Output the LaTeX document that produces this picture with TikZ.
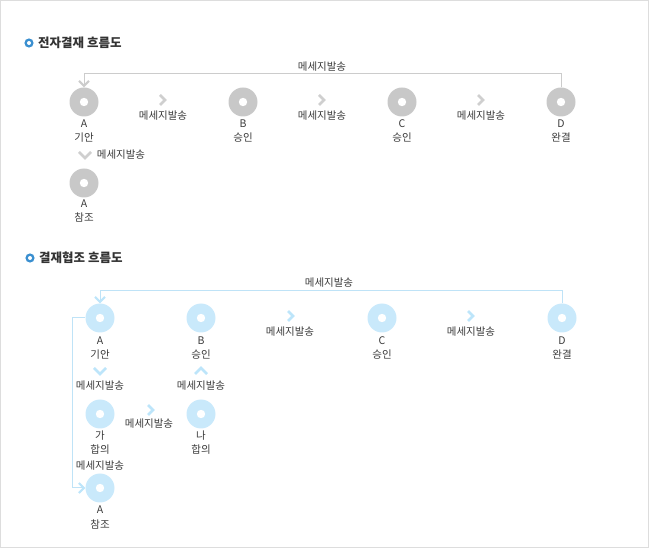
\documentclass[tikz,border=0pt]{standalone}
\usepackage{fontspec}
\newfontfamily\kr{Noto Sans CJK KR}
\usetikzlibrary{arrows.meta}
\definecolor{gcirc}{HTML}{C8C8C8}
\definecolor{bcirc}{HTML}{C9E9FB}
\definecolor{gline}{HTML}{CCCCCC}
\definecolor{bline}{HTML}{BFE3F7}
\definecolor{gchev}{HTML}{CFCFCF}
\definecolor{bchev}{HTML}{BDE5FA}
\definecolor{txt}{HTML}{3A3A3A}
\definecolor{ttl}{HTML}{333333}
\definecolor{bul}{HTML}{3A8FD0}
\definecolor{frame}{HTML}{DDDDDD}
\tikzset{
  disc/.style={circle, minimum size=29pt, inner sep=0pt, draw=none,
    path picture={\fill[white] (path picture bounding box.center) circle (4.2pt);}},
  gdisc/.style={disc, fill=gcirc},
  bdisc/.style={disc, fill=bcirc},
  lbl/.style={font=\kr\fontsize{10.5}{12}\selectfont, text=txt, inner sep=0pt},
  ttlstyle/.style={font=\kr\bfseries\fontsize{12.5}{14}\selectfont, text=ttl, inner sep=0pt, anchor=west},
  tipg/.style={-{Straight Barb[length=5pt,width=10pt,line width=2pt]}},
  chevR/.pic={\draw[line width=2.6pt] (-3,-5)--(2,0)--(-3,5);},
  chevD/.pic={\draw[line width=2.6pt] (-6,-3)--(0,3)--(6,-3);},
  chevU/.pic={\draw[line width=2.6pt] (-6,3)--(0,-3)--(6,3);},
}
\begin{document}
\begin{tikzpicture}[x=1pt,y=-1pt]
\useasboundingbox (0,0) rectangle (649,548);
\draw[frame] (0.5,0.5) rectangle (648.5,547.5);

% ---------- Section 1 ----------
\fill[bul] (29,43) circle (4.6pt);
\fill[white] (29,43) circle (2pt);
\node[ttlstyle] (t1) at (38,43) {전자결재 흐름도};

\node[gdisc] (a1) at (84,102) {};
\node[gdisc] (b1) at (243,102) {};
\node[gdisc] (c1) at (402,102) {};
\node[gdisc] (d1) at (561,102) {};
\node[gdisc] (r1) at (84,183) {};

\node[lbl] (a1l) at (84,124) {A};
\node[lbl] (a1n) at (84,138) {기안};
\node[lbl] (b1l) at (243,124) {B};
\node[lbl] (b1n) at (243,138) {승인};
\node[lbl] (c1l) at (402,124) {C};
\node[lbl] (c1n) at (402,138) {승인};
\node[lbl] (d1l) at (561,124) {D};
\node[lbl] (d1n) at (561,138) {완결};
\node[lbl] (r1l) at (84,204) {A};
\node[lbl] (r1n) at (84,217) {참조};

\pic[color=gchev] at (163,100) {chevR};
\pic[color=gchev] at (322,100) {chevR};
\pic[color=gchev] at (481,100) {chevR};
\pic[color=gchev] at (85,155) {chevD};

\node[lbl] (m1) at (163,116) {메세지발송};
\node[lbl] (m2) at (322,116) {메세지발송};
\node[lbl] (m3) at (481,116) {메세지발송};
\node[lbl] (m4) at (121,155) {메세지발송};
\node[lbl] (m5) at (322,67) {메세지발송};

\coordinate (top1) at (0,74);
\draw[gline, line width=1pt, tipg] (d1.north) -- (d1.north |- top1) -| (a1.north);

% ---------- Section 2 ----------
\fill[bul] (30,258) circle (4.6pt);
\fill[white] (30,258) circle (2pt);
\node[ttlstyle] (t2) at (39,258) {결재협조 흐름도};

\node[bdisc] (a2) at (100,318) {};
\node[bdisc] (b2) at (201,318) {};
\node[bdisc] (c2) at (382,318) {};
\node[bdisc] (d2) at (562,318) {};
\node[bdisc] (g2) at (100,414) {};
\node[bdisc] (n2) at (201,414) {};
\node[bdisc] (r2) at (100,488) {};

\node[lbl] (a2l) at (100,341) {A};
\node[lbl] (a2n) at (100,355) {기안};
\node[lbl] (b2l) at (201,341) {B};
\node[lbl] (b2n) at (201,355) {승인};
\node[lbl] (c2l) at (382,341) {C};
\node[lbl] (c2n) at (382,355) {승인};
\node[lbl] (d2l) at (562,341) {D};
\node[lbl] (d2n) at (562,355) {완결};
\node[lbl] (g2l) at (100,436) {가};
\node[lbl] (g2n) at (100,450) {합의};
\node[lbl] (n2l) at (201,436) {나};
\node[lbl] (n2n) at (201,450) {합의};
\node[lbl] (r2l) at (100,510) {A};
\node[lbl] (r2n) at (100,524) {참조};

\pic[color=bchev] at (291,316) {chevR};
\pic[color=bchev] at (471,316) {chevR};
\pic[color=bchev] at (151,410) {chevR};
\pic[color=bchev] at (100,371) {chevD};
\pic[color=bchev] at (201,371) {chevU};

\node[lbl] (k1) at (290,332) {메세지발송};
\node[lbl] (k2) at (471,332) {메세지발송};
\node[lbl] (k3) at (100,386) {메세지발송};
\node[lbl] (k4) at (201,386) {메세지발송};
\node[lbl] (k5) at (149,424) {메세지발송};
\node[lbl] (k6) at (100,466) {메세지발송};
\node[lbl] (k7) at (329,283) {메세지발송};

\coordinate (top2) at (0,291);
\coordinate (left2) at (72,0);
\draw[bline, line width=1pt, -{Straight Barb[length=5pt,width=10pt,line width=2pt,color=bchev]}]
  (d2.north) -- (d2.north |- top2) -| (a2.north);
\draw[bline, line width=1pt, -{Straight Barb[length=5pt,width=10pt,line width=2pt,color=bchev]}]
  (a2.west) -- (a2.west -| left2) |- (r2.west);
\end{tikzpicture}
\end{document}
